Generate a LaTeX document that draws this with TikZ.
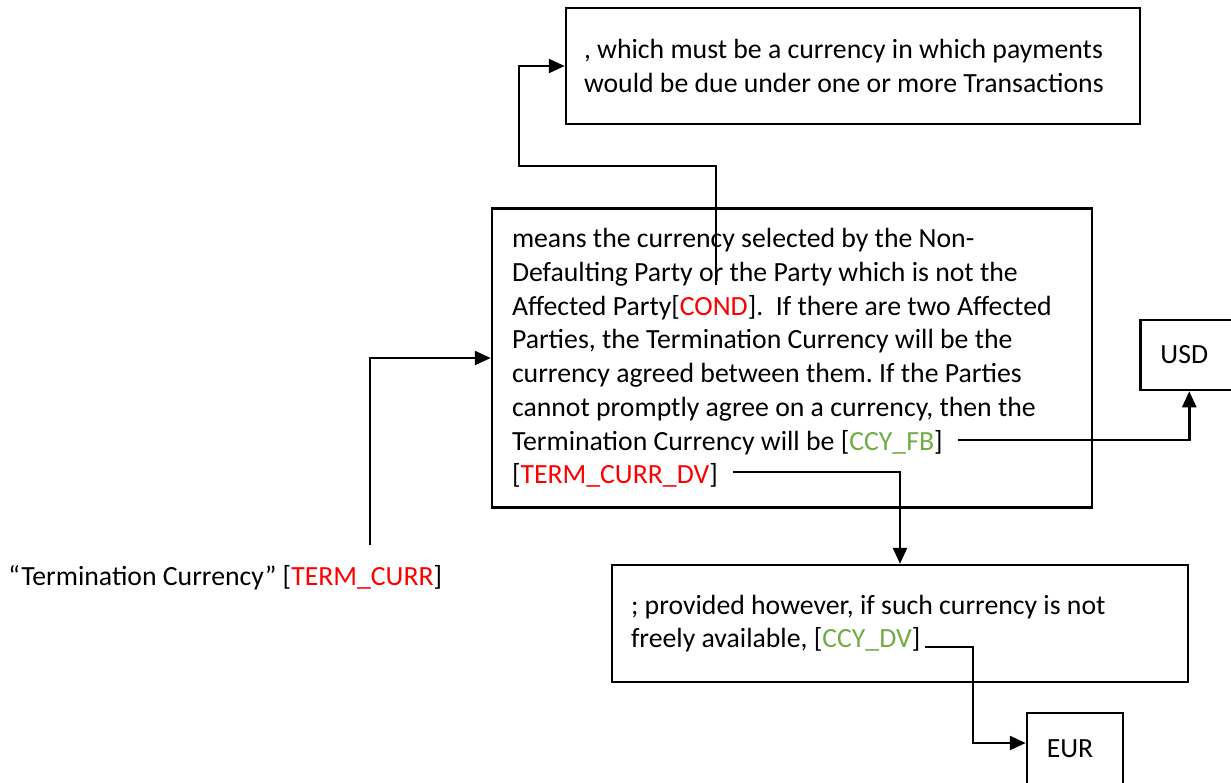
\documentclass[tikz,border=0pt]{standalone}
\usepackage{fontspec}
\setmainfont{Carlito}
\usetikzlibrary{arrows.meta}
\definecolor{condred}{RGB}{255,0,0}
\definecolor{vargreen}{RGB}{112,173,71}
\frenchspacing

\begin{document}
\begin{tikzpicture}[x=0.4pt,y=-0.4pt,
  box/.style={draw,line width=1pt,align=flush left,inner xsep=7.6pt,font=\fontsize{11.1}{13.5}\selectfont},
  conn/.style={line width=1pt,-{Triangle[length=6.4pt,width=5.6pt]}}]

\useasboundingbox (0,0) rectangle (1231,782);
\clip (0,0) rectangle (1231,782);

\draw (853,66) node(TOP)[box,text width=215.2pt,inner xsep=7.2pt,minimum height=46.4pt]{, which must be a currency in which payments\\would be due under one or more Transactions};
\draw (792,358) node(MAIN)[box,text width=224pt,inner xsep=8pt,minimum height=119.6pt]{means the currency selected by the Non-\\Defaulting Party or the Party which is not the\\Affected Party[\textcolor{condred}{COND}].~ If there are two Affected\\Parties, the Termination Currency will be the\\currency agreed between them. If the Parties\\cannot promptly agree on a currency, then the\\Termination Currency will be [\textcolor{vargreen}{CCY\_FB}]\\{[}\textcolor{condred}{TERM\_CURR\_DV}]};
\draw (1139,355) node(USD)[box,anchor=west,minimum width=39.2pt,minimum height=28pt]{USD\hspace{4pt}};
\draw (900,623.5) node(BOT)[box,text width=215.2pt,minimum height=46.8pt]{; provided however, if such currency is not\\freely available, [\textcolor{vargreen}{CCY\_DV}]};
\draw (1075,749) node(EUR)[box,minimum width=38.4pt,minimum height=28.8pt]{EUR\hspace{4pt}};
\draw (8,578) node(LABEL)[anchor=west,inner sep=0pt,font=\fontsize{11.1}{13.5}\selectfont]{“Termination Currency” [\textcolor{condred}{TERM\_CURR}]};

\coordinate (LABELTOP) at (370,545);
\coordinate (ORSTART) at (716,285);
\coordinate (TOPBEND) at (519,166);
\coordinate (FBEND) at (958,440);
\coordinate (DVEND) at (733,472);
\coordinate (CCYEND) at (925,647);
\coordinate (EURBEND) at (973,647);

\draw[conn] (LABELTOP) |- (MAIN.west);
\draw[conn] (ORSTART) |- (TOPBEND) |- (TOP.west);
\draw[conn] (FBEND) -| (USD.south);
\draw[conn] (DVEND) -| (BOT.north);
\draw[conn] (CCYEND) -- (EURBEND) |- ([yshift=2.4pt]EUR.west);

\end{tikzpicture}
\end{document}
